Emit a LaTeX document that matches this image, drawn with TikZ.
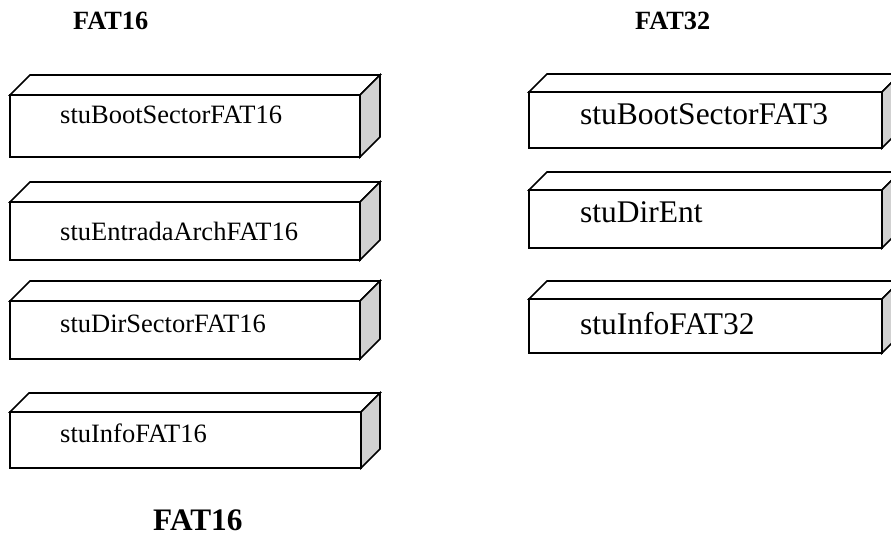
\documentclass[tikz,border=0pt]{standalone}
\usepackage{fontspec}
\setmainfont{Liberation Serif}
\definecolor{sidegray}{gray}{0.82}
\tikzset{
  edge/.style={draw=black, line width=1.6pt, line join=miter},
  frontface/.style={edge, fill=white, rectangle, inner sep=0pt, outer sep=0pt, anchor=north west},
  smalltxt/.style={inner sep=0pt, anchor=base west, font=\fontsize{26.5}{30}\selectfont},
  bigtxt/.style={inner sep=0pt, anchor=base west, font=\fontsize{31.5}{36}\selectfont},
  toptitle/.style={inner sep=0pt, anchor=base west, font=\fontsize{26.3}{30}\selectfont\bfseries},
  bottitle/.style={inner sep=0pt, anchor=base west, font=\fontsize{31.3}{36}\selectfont\bfseries}
}
% #1 name, #2 left x, #3 top y, #4 width, #5 height, #6 depth
\newcommand\slab[6]{%
  \node[frontface, minimum width=#4pt, minimum height=#5pt] (#1) at (#2,#3) {};
  \draw[edge, fill=white] (#1.north west) -- ++(#6,-#6) -- ++(#4,0) -- (#1.north east) -- cycle;
  \draw[edge, fill=sidegray] (#1.north east) -- ++(#6,-#6) -- ++(0,#5) -- (#1.south east) -- cycle;
}
\begin{document}
\begin{tikzpicture}[x=1pt,y=-1pt]
\useasboundingbox (0,0) rectangle (891,537);
\clip (0,0) rectangle (891,537);
% titles
\node[toptitle] (h16) at (73,30) {FAT16};
\node[toptitle] (h32) at (635,30) {FAT32};
\node[bottitle] (f16) at (153,530) {FAT16};
% left column
\slab{l1}{10}{95}{350}{62}{20}
\node[smalltxt] (tl1) at (60,124) {stuBootSectorFAT16};
\slab{l2}{10}{202}{350}{58}{20}
\node[smalltxt] (tl2) at (60,241) {stuEntradaArchFAT16};
\slab{l3}{10}{301}{350}{58}{20}
\node[smalltxt] (tl3) at (60,332) {stuDirSectorFAT16};
\slab{l4}{10}{412}{351}{56}{19}
\node[smalltxt] (tl4) at (60,442) {stuInfoFAT16};
% right column
\slab{r1}{529}{92}{353}{56}{18}
\node[bigtxt] (tr1) at (580,125) {stuBootSectorFAT3};
\slab{r2}{529}{190}{353}{58}{18}
\node[bigtxt] (tr2) at (580,223) {stuDirEnt};
\slab{r3}{529}{299}{353}{54}{18}
\node[bigtxt] (tr3) at (580,334) {stuInfoFAT32};
\end{tikzpicture}
\end{document}
